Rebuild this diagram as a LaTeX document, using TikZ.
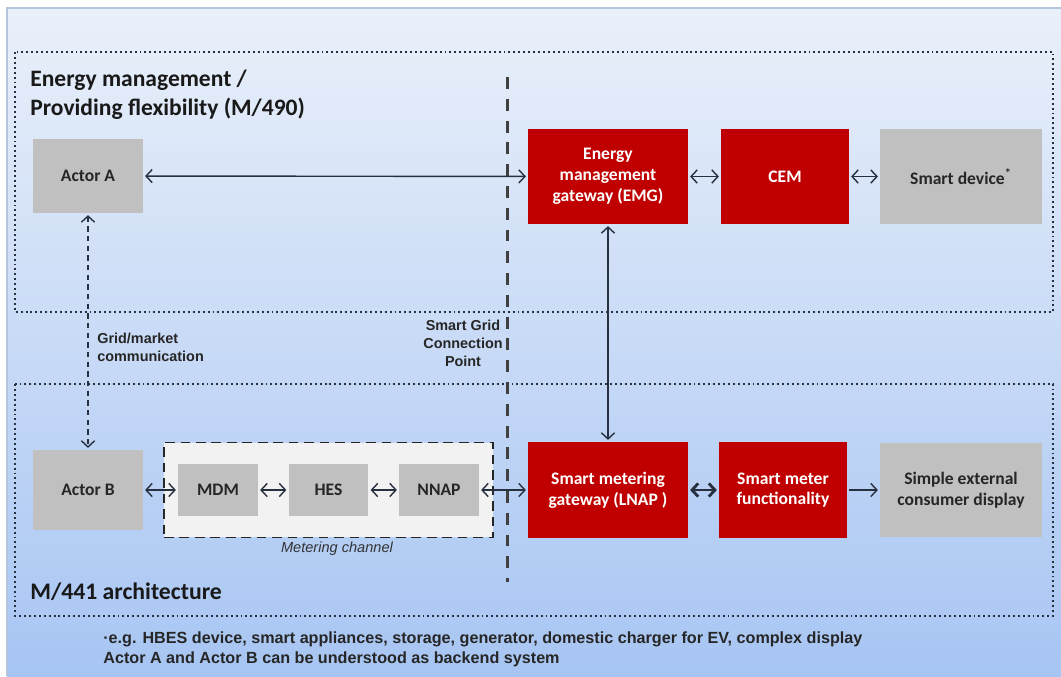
\documentclass[tikz,border=0pt]{standalone}
\usepackage{fontspec}
\setmainfont{Carlito}
\newfontfamily\arialfont{Liberation Sans}
\usetikzlibrary{arrows.meta}
\definecolor{emred}{HTML}{C00000}
\definecolor{boxgray}{HTML}{C0C0C0}
\definecolor{chgray}{HTML}{F2F2F2}
\definecolor{linedark}{HTML}{27303E}
\definecolor{bgtop}{HTML}{EAF0FA}
\definecolor{bgbottom}{HTML}{A7C5F3}
\definecolor{bgedge}{HTML}{B3C6DE}

\begin{document}
\begin{tikzpicture}[x=0.02cm,y=-0.02cm,
    redbox/.style={fill=emred,text=white,align=center,inner sep=0pt,
      font=\bfseries\fontsize{10}{11.8}\selectfont,minimum height=1.9cm},
    graybox/.style={fill=boxgray,text=black!85,align=center,inner sep=0pt,
      font=\bfseries\fontsize{10}{11.8}\selectfont},
    areabox/.style={draw=linedark,line width=1.3pt,dash pattern=on 1.1pt off 1.7pt},
    link/.style={draw=linedark,line width=0.8pt,
      {Straight Barb[length=3.5pt,width=7.5pt]}-{Straight Barb[length=3.5pt,width=7.5pt]},
      shorten <=1pt,shorten >=1pt},
    note/.style={font=\arialfont\bfseries\fontsize{8.2}{10.2}\selectfont,text=black!85,inner sep=0pt}]
  \useasboundingbox (0,0) rectangle (1061,676);
  % background and the two areas
  \fill[top color=bgtop,bottom color=bgbottom] (7,8) rectangle (1061,676);
  \draw[bgedge,line width=1pt] (7,676) -- (7,8) -- (1061,8);
  \draw[areabox] (15,52) rectangle (1053,312);
  \draw[areabox] (15,384) rectangle (1053,616);
  \draw[black!75,line width=1.7pt,dash pattern=on 6.8pt off 5.6pt] (507,77) -- (507,582);

  \draw
  (30,70) node[anchor=north west,align=left,inner sep=0pt,text=black!90,
    font=\bfseries\fontsize{13.4}{16.4}\selectfont] (title){Energy management /\\Providing flexibility (M/490)}
  (30,592) node[anchor=west,inner sep=0pt,text=black!90,
    font=\bfseries\fontsize{13.5}{15}\selectfont] (m441){M/441 architecture}
  (88,176) node[graybox,minimum width=2.2cm,minimum height=1.48cm] (actorA){Actor A}
  (608,176.5) node[redbox,minimum width=3.2cm] (emg){Energy\\management\\gateway (EMG)}
  (785,176.5) node[redbox,minimum width=2.56cm] (cem){CEM}
  (961,176.5) node[graybox,minimum width=3.24cm,minimum height=1.9cm] (device){Smart device\textsuperscript{*}}
  (88,490) node[graybox,minimum width=2.2cm,minimum height=1.6cm] (actorB){Actor B}
  (328.5,490) node[fill=chgray,draw=black!85,line width=1.1pt,dash pattern=on 5.5pt off 3.3pt,
    minimum width=6.58cm,minimum height=1.9cm] (channel){}
  (218,490) node[graybox,minimum width=1.6cm,minimum height=1.04cm] (mdm){MDM}
  (328.5,490) node[graybox,minimum width=1.6cm,minimum height=1.04cm] (hes){HES}
  (439,490) node[graybox,minimum width=1.6cm,minimum height=1.04cm] (nnap){NNAP}
  (337,549) node[font=\arialfont\itshape\fontsize{8.3}{9}\selectfont,text=black!80,inner sep=0pt] (chlabel){Metering channel}
  (608,490) node[redbox,minimum width=3.2cm,minimum height=1.92cm] (lnap){Smart metering\\gateway (LNAP )}
  (783,490) node[redbox,minimum width=2.56cm,minimum height=1.92cm] (smf){Smart meter\\functionality}
  (961,490) node[graybox,minimum width=3.24cm,minimum height=1.88cm] (display){Simple external\\consumer display}
  (97,347) node[note,anchor=west,align=left] (gridmarket){Grid/market\\communication}
  (463,343) node[note,align=center] (sgcp){Smart Grid\\Connection\\Point}
  (103,649) node[note,anchor=west,align=left,font=\arialfont\bfseries\fontsize{9.2}{11.3}\selectfont] (footnote){·e.g. HBES device, smart appliances, storage, generator, domestic charger for EV, complex display\\Actor A and Actor B can be understood as backend system};

  \begin{scope}[link]
    \draw (actorA) -- (emg);
    \draw (emg) -- (cem);
    \draw (cem) -- (device);
    \draw (emg) -- (lnap);
    \draw[dash pattern=on 3pt off 2.5pt] (actorA) -- (actorB);
    \draw (actorB) -- (mdm);
    \draw (mdm) -- (hes);
    \draw (hes) -- (nnap);
    \draw (nnap) -- (lnap);
    \draw[line width=1.6pt] (lnap) -- (smf);
    \draw[-{Straight Barb[length=3.5pt,width=7.5pt]}] (smf) -- (display);
  \end{scope}

\end{tikzpicture}
\end{document}
